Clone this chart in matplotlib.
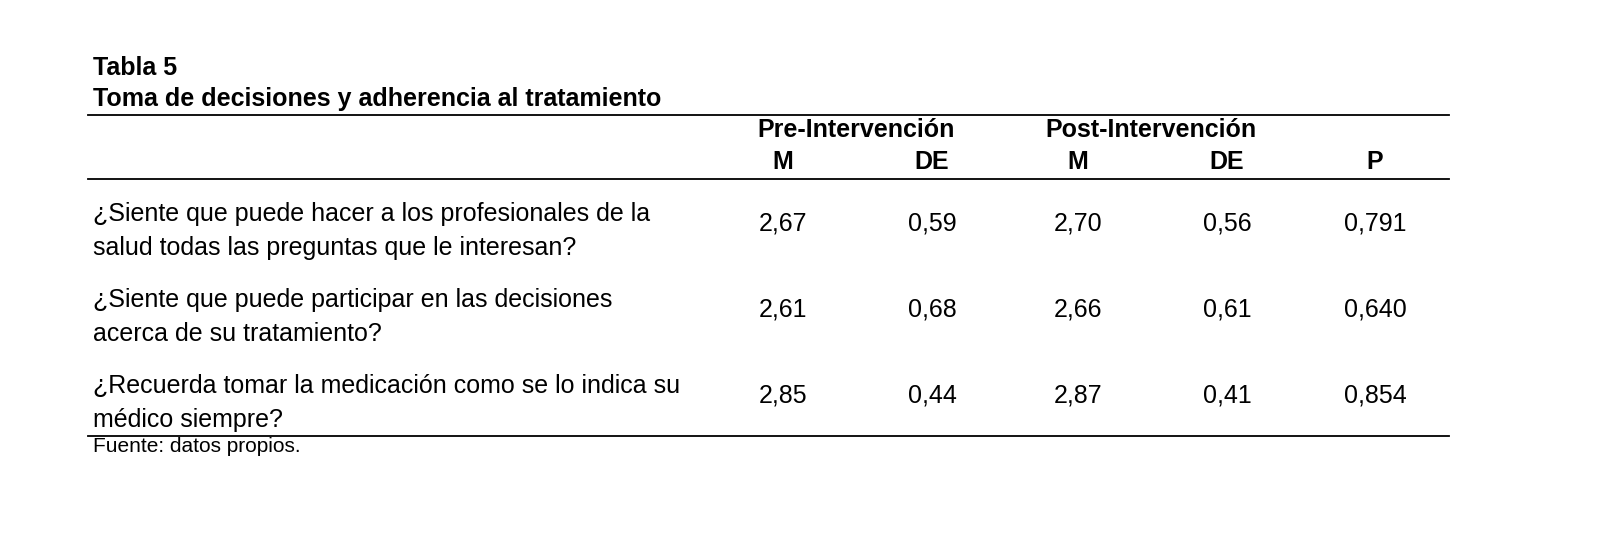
import matplotlib
matplotlib.use("Agg")
import matplotlib.pyplot as plt

title1 = "Tabla 5"
title2 = "Toma de decisiones y adherencia al tratamiento"
groups = ["Pre-Intervención", "Post-Intervención"]
cols = ["M", "DE", "M", "DE", "P"]
questions = [
    ["¿Siente que puede hacer a los profesionales de la", "salud todas las preguntas que le interesan?"],
    ["¿Siente que puede participar en las decisiones", "acerca de su tratamiento?"],
    ["¿Recuerda tomar la medicación como se lo indica su", "médico siempre?"],
]
pre_m = ["2,67", "2,61", "2,85"]
pre_de = ["0,59", "0,68", "0,44"]
post_m = ["2,70", "2,66", "2,87"]
post_de = ["0,56", "0,61", "0,41"]
p_vals = ["0,791", "0,640", "0,854"]

W, H = 1600, 548
fig = plt.figure(figsize=(W/100, H/100), dpi=100)
fig.patch.set_facecolor("white")
FONT = "Liberation Sans"

def T(x, y, s, **kw):
    kw.setdefault("family", FONT)
    kw.setdefault("fontsize", 18)
    kw.setdefault("va", "center")
    fig.text(x/W, 1-y/H, s, **kw)

def L(y, x0=88, x1=1449):
    fig.add_artist(plt.Line2D([x0/W, x1/W], [1-y/H, 1-y/H], color="black", lw=1.3))

T(93, 68, title1, weight="bold")
T(93, 99, title2, weight="bold")
L(115)
T(856, 130, groups[0], weight="bold", ha="center")
T(1151, 130, groups[1], weight="bold", ha="center")
colx = [783, 932, 1078, 1227, 1375]
for x, c in zip(colx, cols):
    T(x, 162, c, weight="bold", ha="center")
L(179)
for i, q in enumerate(questions):
    y0 = 214 + 86*i
    T(93, y0, q[0])
    T(93, y0+34, q[1])
    vals = [pre_m[i], pre_de[i], post_m[i], post_de[i], p_vals[i]]
    for x, v in zip(colx, vals):
        T(x, y0+9, v, ha="center")
L(436)
T(93, 446, "Fuente: datos propios.", fontsize=15)
fig.savefig("out.png", dpi=100)
